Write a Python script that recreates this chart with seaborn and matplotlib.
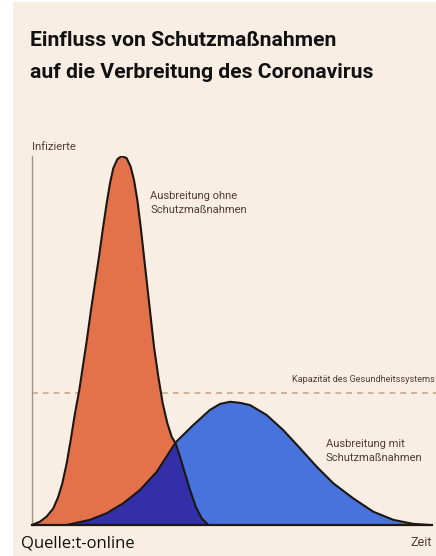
import numpy as np
import pandas as pd
import matplotlib
matplotlib.use("Agg")
import matplotlib.pyplot as plt
from matplotlib.patches import Polygon, Rectangle
import seaborn as sns

# Kurven (Zeit 0..100, Infizierte 0..100)
ohne_t = [0, 2.0, 3.67, 5.33, 6.58, 7.58, 8.67, 9.67, 10.75, 11.83, 12.83,
          13.83, 14.75, 15.75, 16.75, 17.67, 18.67, 19.5, 20.33, 21.33, 22.42,
          23.67, 24.67, 25.5, 26.33, 27.17, 28, 28.83, 29.67, 30.5, 31.58,
          32.67, 33.83, 34.92, 35.92, 37, 38.25, 39.5, 40.92, 42.42, 44.08]
ohne_y = [0, 0.9, 2.3, 4.5, 7.7, 11.3, 16.7, 23.0, 30.3, 36.6, 43.8,
          51.0, 58.3, 65.5, 72.7, 79.9, 87.2, 92.6, 96.7, 99.1, 100,
          99.4, 97.1, 93.5, 88.1, 80.8, 72.7, 64.6, 56.4, 48.3, 40.2,
          33.0, 27.6, 23.9, 22.1, 18.5, 14.0, 9.5, 5.0, 1.8, 0]

mit_t = [8.67, 14.5, 18.67, 22.83, 27, 31.17, 35.92, 40.33, 44.5, 47, 49.5,
         52, 54.5, 58.67, 62.83, 67, 71.17, 75.33, 80.33, 85.33, 90.33,
         95.33, 99.5]
mit_y = [0, 1.4, 3.2, 5.9, 9.5, 14.4, 22.4, 27.1, 31.2, 32.8, 33.4,
         33.1, 32.5, 29.8, 25.7, 20.8, 15.8, 11.3, 7.2, 3.6, 1.4,
         0.3, 0]

kapazitaet = 35.8

title_lines = ["Einfluss von Schutzmaßnahmen",
               "auf die Verbreitung des Coronavirus"]

BG = "#f9eee3"
RED = "#e3724a"
BLUE = "#4872dc"
NAVY = "#332fa8"
TEXT = "#4d3f34"
INK = "#1c1712"

sns.set_theme(style="white")
plt.rcParams["font.family"] = ["Roboto", "DejaVu Sans"]

fig = plt.figure(figsize=(4.36, 5.56), dpi=100, facecolor="white")
fig.patches.append(Rectangle((13 / 436, 0), 1, 1 - 2 / 556, transform=fig.transFigure,
                             facecolor=BG, edgecolor="none", zorder=-1))
ax = fig.add_axes([32 / 436, 31 / 556, 400 / 436, 369 / 556])
ax.set_facecolor("none")

df_ohne = pd.DataFrame({"t": ohne_t, "y": ohne_y})
df_mit = pd.DataFrame({"t": mit_t, "y": mit_y})

ax.fill_between(df_ohne["t"], df_ohne["y"], color=RED, lw=0, zorder=1)
ax.fill_between(df_mit["t"], df_mit["y"], color=BLUE, lw=0, zorder=2)

# Überlappung dunkel: blaue Fläche, beschnitten auf die rote
red_poly = Polygon(np.column_stack([ohne_t, ohne_y]), closed=True,
                   transform=ax.transData, facecolor="none", edgecolor="none")
ax.add_patch(red_poly)
overlap = ax.fill_between(df_mit["t"], df_mit["y"], color=NAVY, lw=0, zorder=3)
overlap.set_clip_path(red_poly)

for d in (df_ohne, df_mit):
    sns.lineplot(data=d, x="t", y="y", sort=False, color=INK, lw=1.5,
                 ax=ax, zorder=4, solid_joinstyle="round", solid_capstyle="round")

ax.plot([0, 101], [kapazitaet, kapazitaet], ls=(0, (3.5, 3)), color="#c9a889",
        lw=1.2, clip_on=False, zorder=0)

ax.set_xlim(0, 100)
ax.set_ylim(0, 100)
ax.set_xticks([])
ax.set_yticks([])
ax.set_xlabel("")
ax.set_ylabel("")
for s in ["top", "right"]:
    ax.spines[s].set_visible(False)
ax.spines["left"].set_color("#a09585")
ax.spines["left"].set_linewidth(1.0)
ax.spines["bottom"].set_color(INK)
ax.spines["bottom"].set_linewidth(1.6)
ax.spines["bottom"].set_zorder(5)

for i, line in enumerate(title_lines):
    fig.text(30 / 436, 1 - (40 + 32 * i) / 556, line, fontsize=15.2, fontweight="bold",
             color="#111111", va="center", ha="left")

fig.text(32 / 436, 1 - 147 / 556, "Infizierte", fontsize=8.2,
         color=TEXT, va="center", ha="left")
fig.text(150 / 436, 1 - 203 / 556, "Ausbreitung ohne\nSchutzmaßnahmen", fontsize=8,
         color=TEXT, va="center", ha="left", linespacing=1.45)
fig.text(326 / 436, 1 - 451 / 556, "Ausbreitung mit\nSchutzmaßnahmen", fontsize=8,
         color=TEXT, va="center", ha="left", linespacing=1.45)
fig.text(435 / 436, 1 - 380 / 556, "Kapazität des Gesundheitssystems", fontsize=6.6,
         color=TEXT, va="center", ha="right")
fig.text(432 / 436, 1 - 543 / 556, "Zeit", fontsize=9,
         color=TEXT, va="center", ha="right")
fig.text(21 / 436, 1 - 543 / 556, "Quelle:t-online", fontsize=12,
         family=["Open Sans", "DejaVu Sans"], color="#111111", va="center", ha="left")

fig.savefig("out.png", dpi=100, facecolor=fig.get_facecolor())
